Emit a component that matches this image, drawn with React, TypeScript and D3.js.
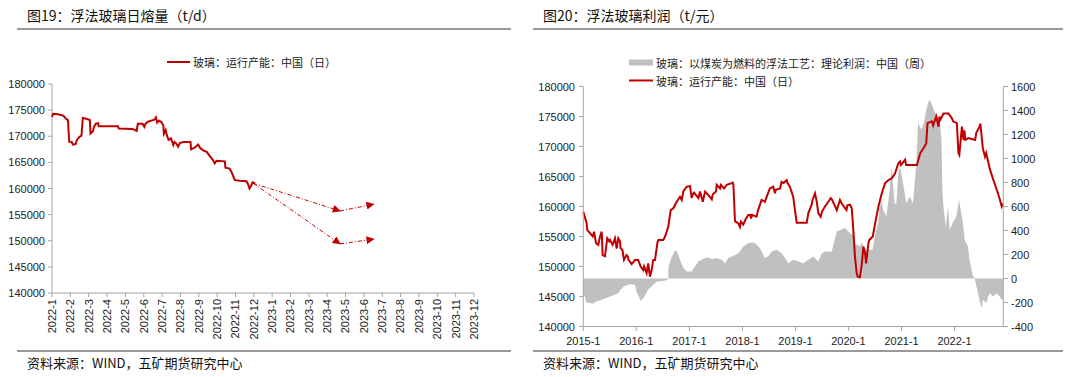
import React from "react";
import * as d3 from "d3";

const FONT_CJK = "'Noto Sans CJK SC', 'Noto Sans', sans-serif";
const FONT_NUM = "'Liberation Sans', Arial, sans-serif";
const RED = "#C00000";
const GREY = "#C0C0C0";
const AXIS = "#A6A6A6";
const RULE = "#9A9A9A";

// ---------------- Left chart data ----------------
const leftTitle = "图19：浮法玻璃日熔量（t/d）";
const leftLegend = "玻璃：运行产能：中国（日）";
const leftMonths = [
  "2022-1", "2022-2", "2022-3", "2022-4", "2022-5", "2022-6",
  "2022-7", "2022-8", "2022-9", "2022-10", "2022-11", "2022-12",
  "2023-1", "2023-2", "2023-3", "2023-4", "2023-5", "2023-6",
  "2023-7", "2023-8", "2023-9", "2023-10", "2023-11", "2023-12",
];
const leftYTicks = [140000, 145000, 150000, 155000, 160000, 165000, 170000, 175000, 180000];
const capacity2022Dates = [
  "2022-01-01", "2022-01-03", "2022-01-11", "2022-01-20", "2022-01-25", "2022-01-28", "2022-01-30",
  "2022-02-03", "2022-02-05", "2022-02-09", "2022-02-11", "2022-02-15", "2022-02-18", "2022-02-20",
  "2022-02-24", "2022-03-03", "2022-03-04", "2022-03-08", "2022-03-10", "2022-03-13", "2022-03-17",
  "2022-03-18", "2022-04-19", "2022-04-20", "2022-05-13", "2022-05-20", "2022-05-22", "2022-05-30",
  "2022-06-02", "2022-06-04", "2022-06-08", "2022-06-14", "2022-06-19", "2022-06-21", "2022-06-23",
  "2022-06-26", "2022-06-30", "2022-07-03", "2022-07-04", "2022-07-07", "2022-07-09", "2022-07-12",
  "2022-07-16", "2022-07-20", "2022-07-22", "2022-07-25", "2022-07-28", "2022-07-31", "2022-08-06",
  "2022-08-18", "2022-08-19", "2022-08-25", "2022-08-31", "2022-09-03", "2022-09-08", "2022-09-14",
  "2022-09-19", "2022-09-24", "2022-09-27", "2022-09-30", "2022-10-14", "2022-10-15", "2022-10-22",
  "2022-10-25", "2022-10-31", "2022-11-08", "2022-11-19", "2022-11-22", "2022-11-24", "2022-11-27",
  "2022-11-29", "2022-12-03",
];
const capacity2022Values = [
  173700, 174300, 174200, 173950, 173300, 173100, 168960,
  168900, 168400, 168500, 169300, 169900, 170100, 173500,
  173400, 173100, 170500, 170900, 171800, 172400, 172500,
  171900, 171900, 171500, 171400, 171000, 172400, 172400,
  171800, 172400, 172800, 173000, 173200, 173600, 172600,
  173000, 172700, 172100, 170500, 171200, 170200, 169300,
  169600, 168300, 168900, 168600, 168000, 168700, 168900,
  168900, 167500, 167800, 168400, 167800, 167300, 167000,
  166200, 165500, 164800, 165300, 165200, 164000, 163800,
  163200, 161600, 161500, 161400, 160700, 160000, 160600,
  161200, 161000,
];
const scenarioDates = ["2022-11-30", "2023-04-22", "2023-06-17"];
const scenarioHigh = [161000, 155700, 157000];
const scenarioLow = [161000, 149400, 150300];

// ---------------- Right chart data ----------------
const rightTitle = "图20：浮法玻璃利润（t/元）";
const rightLegendProfit = "玻璃：以煤炭为燃料的浮法工艺：理论利润：中国（周）";
const rightLegendCapacity = "玻璃：运行产能：中国（日）";
const rightYearLabels = ["2015-1", "2016-1", "2017-1", "2018-1", "2019-1", "2020-1", "2021-1", "2022-1"];
const rightLeftTicks = [140000, 145000, 150000, 155000, 160000, 165000, 170000, 175000, 180000];
const rightRightTicks = [-400, -200, 0, 200, 400, 600, 800, 1000, 1200, 1400, 1600];

const capacityDates = [
  "2015-01-01", "2015-01-24", "2015-01-28", "2015-03-07", "2015-03-16", "2015-03-30", "2015-04-14",
  "2015-04-26", "2015-05-08", "2015-05-14", "2015-05-30", "2015-06-15", "2015-06-29", "2015-07-04",
  "2015-07-22", "2015-08-07", "2015-08-19", "2015-08-30", "2015-09-11", "2015-09-14", "2015-09-28",
  "2015-10-08", "2015-10-26", "2015-11-05", "2015-11-08", "2015-11-30", "2015-12-23", "2016-01-14",
  "2016-01-31", "2016-02-18", "2016-02-24", "2016-03-12", "2016-03-23", "2016-04-04", "2016-04-16",
  "2016-04-27", "2016-05-09", "2016-05-25", "2016-06-01", "2016-07-05", "2016-07-17", "2016-08-08",
  "2016-08-25", "2016-09-12", "2016-10-05", "2016-10-28", "2016-11-09", "2016-11-20", "2016-12-13",
  "2017-01-05", "2017-01-17", "2017-01-23", "2017-02-02", "2017-03-04", "2017-03-15", "2017-04-03",
  "2017-04-19", "2017-05-12", "2017-06-04", "2017-06-10", "2017-07-03", "2017-07-08", "2017-07-31",
  "2017-08-06", "2017-08-27", "2017-09-15", "2017-10-19", "2017-10-26", "2017-10-31", "2017-11-11",
  "2017-12-04", "2017-12-15", "2017-12-22", "2018-01-07", "2018-01-26", "2018-02-11", "2018-02-24",
  "2018-03-01", "2018-03-08", "2018-04-08", "2018-04-19", "2018-05-13", "2018-06-05", "2018-06-17",
  "2018-07-09", "2018-08-01", "2018-08-13", "2018-08-19", "2018-09-17", "2018-09-28", "2018-10-11",
  "2018-11-02", "2018-11-08", "2018-11-24", "2018-12-17", "2018-12-29", "2019-01-10", "2019-03-20",
  "2019-03-31", "2019-04-23", "2019-04-29", "2019-05-16", "2019-05-28", "2019-06-08", "2019-06-24",
  "2019-07-04", "2019-07-24", "2019-08-02", "2019-09-01", "2019-09-11", "2019-10-13", "2019-11-04",
  "2019-11-16", "2019-12-19", "2019-12-25", "2020-01-12", "2020-01-24", "2020-02-04", "2020-02-15",
  "2020-02-27", "2020-03-05", "2020-03-20", "2020-04-02", "2020-04-13", "2020-04-25", "2020-05-02",
  "2020-05-18", "2020-05-24", "2020-06-17", "2020-07-03", "2020-07-26", "2020-08-18", "2020-09-10",
  "2020-10-03", "2020-10-26", "2020-11-17", "2020-12-10", "2020-12-22", "2020-12-28", "2021-01-26",
  "2021-02-01", "2021-03-13", "2021-04-17", "2021-05-10", "2021-06-01", "2021-06-20", "2021-06-29",
  "2021-07-29", "2021-08-07", "2021-08-28", "2021-09-13", "2021-09-19", "2021-09-26", "2021-10-17",
  "2021-11-20", "2021-12-14", "2021-12-22", "2022-01-17", "2022-01-28", "2022-02-03", "2022-02-21",
  "2022-03-04", "2022-03-10", "2022-03-17", "2022-04-07", "2022-05-23", "2022-05-31", "2022-06-22",
  "2022-06-28", "2022-07-15", "2022-07-30", "2022-08-07", "2022-09-03", "2022-09-26", "2022-10-19",
  "2022-11-10", "2022-11-22", "2022-12-01",
];
const capacityValues = [
  159100, 157200, 156100, 155000, 155800, 153900, 153600,
  155000, 155800, 151900, 151700, 154700, 154200, 154400,
  153600, 154700, 153000, 154700, 154200, 153100, 152700,
  151100, 151900, 151600, 151100, 150400, 151100, 151100,
  150000, 149400, 150000, 148900, 150500, 148300, 149400,
  151100, 151100, 153900, 154400, 154400, 155000, 156600,
  159400, 159700, 160800, 161600, 161100, 162500, 163300,
  163400, 161400, 162000, 162300, 161400, 162500, 160800,
  162500, 161900, 161200, 162000, 162500, 163600, 163000,
  163600, 163000, 163600, 163900, 164000, 163600, 157500,
  157200, 156600, 157500, 157000, 158000, 158600, 158600,
  158000, 158600, 158300, 159400, 161100, 160800, 161600,
  163000, 163300, 162200, 162800, 163000, 164100, 163900,
  164400, 163900, 163300, 161600, 159400, 157300, 157300,
  158900, 160300, 161100, 162200, 160800, 158900, 158300,
  159200, 160000, 160300, 161400, 161100, 159400, 161100,
  160500, 159400, 160200, 160300, 159700, 156100, 151700,
  148900, 148300, 148200, 150300, 153300, 152200, 150500,
  153900, 154400, 155000, 157200, 160000, 162200, 163900,
  164400, 164700, 165500, 167200, 167500, 166900, 167800,
  166900, 166900, 166900, 168900, 169700, 170500, 173900,
  174200, 173500, 175000, 173300, 175000, 174500, 175500,
  175500, 174700, 174200, 173900, 168900, 168600, 173300,
  171100, 172700, 171100, 171400, 171100, 172300, 173300,
  173800, 169700, 168300, 168900, 166100, 164400, 162800,
  161100, 160000, 160500,
];

const profitDates = [
  "2015-01-01", "2015-01-12", "2015-01-24", "2015-02-04", "2015-03-11", "2015-03-22", "2015-05-08",
  "2015-06-11", "2015-07-27", "2015-08-30", "2015-09-11", "2015-10-05", "2015-11-19", "2015-12-23",
  "2016-01-04", "2016-02-03", "2016-03-03", "2016-03-25", "2016-04-28", "2016-05-22", "2016-06-14",
  "2016-07-30", "2016-08-08", "2016-08-10", "2016-09-02", "2016-09-24", "2016-10-08", "2016-10-28",
  "2016-11-20", "2016-12-13", "2017-01-16", "2017-02-08", "2017-03-03", "2017-04-18", "2017-05-16",
  "2017-06-05", "2017-07-08", "2017-08-11", "2017-09-04", "2017-09-26", "2017-10-30", "2017-12-04",
  "2018-01-07", "2018-02-11", "2018-03-17", "2018-04-09", "2018-05-02", "2018-06-05", "2018-06-28",
  "2018-07-21", "2018-08-25", "2018-09-28", "2018-10-21", "2018-11-13", "2018-12-17", "2019-01-21",
  "2019-02-24", "2019-03-31", "2019-05-05", "2019-06-08", "2019-07-02", "2019-07-24", "2019-09-08",
  "2019-10-13", "2019-12-09", "2020-01-12", "2020-02-04", "2020-02-08", "2020-02-27", "2020-03-20",
  "2020-04-01", "2020-05-05", "2020-06-15", "2020-07-01", "2020-07-24", "2020-08-05", "2020-08-16",
  "2020-08-27", "2020-09-19", "2020-10-12", "2020-10-23", "2020-11-15", "2020-11-27", "2020-12-08",
  "2020-12-19", "2020-12-31", "2021-02-03", "2021-02-26", "2021-03-21", "2021-04-13", "2021-04-25",
  "2021-05-18", "2021-06-03", "2021-06-21", "2021-07-09", "2021-07-26", "2021-08-11", "2021-09-03",
  "2021-09-21", "2021-10-03", "2021-10-10", "2021-10-19", "2021-11-02", "2021-11-17", "2021-11-29",
  "2021-12-17", "2022-01-14", "2022-02-01", "2022-02-12", "2022-02-28", "2022-03-12", "2022-04-04",
  "2022-04-15", "2022-05-08", "2022-05-20", "2022-06-12", "2022-07-05", "2022-07-16", "2022-08-09",
  "2022-08-20", "2022-09-01", "2022-09-24", "2022-10-17", "2022-11-09", "2022-11-23", "2022-12-01",
];
const profitValues = [
  -136, -150, -205, -200, -211, -195, -178,
  -161, -140, -122, -100, -67, -47, -52,
  -115, -190, -140, -90, -53, -25, -25,
  -12, 0, 100, 183, 233, 225, 156,
  87, 58, 58, 100, 142, 170, 175,
  160, 170, 156, 128, 170, 189, 211,
  267, 295, 300, 281, 253, 170, 185,
  225, 239, 211, 170, 128, 156, 142,
  128, 156, 183, 142, 211, 225, 225,
  392, 420, 378, 364, 295, 281, 270,
  295, 239, 239, 350, 461, 600, 656,
  570, 520, 739, 933, 620, 628, 850,
  933, 878, 628, 684, 628, 961, 1295,
  1239, 1295, 1406, 1489, 1461, 1406, 1350,
  1322, 1156, 711, 572, 433, 600, 406,
  461, 517, 656, 572, 461, 322, 267,
  150, 20, 0, -122, -247, -178, -205,
  -150, -122, -150, -122, -150, -180, -170,
];

const sourceText = "资料来源：WIND，五矿期货研究中心";

const parse = d3.timeParse("%Y-%m-%d");

function monthIndex(s: string): number {
  const d = parse(s) as Date;
  const y = d.getFullYear();
  const m = d.getMonth();
  const days = new Date(y, m + 1, 0).getDate();
  return (y - 2022) * 12 + m + (d.getDate() - 1) / days;
}

function LeftChart() {
  const x = d3.scaleLinear().domain([0, leftMonths.length - 1]).range([52, 474]);
  const y = d3.scaleLinear().domain([140000, 180000]).range([293, 84]);
  const pts = capacity2022Dates.map((d, i) => [monthIndex(d), capacity2022Values[i]] as [number, number]);
  const line = d3.line<[number, number]>().x((d) => x(d[0])).y((d) => y(d[1]));
  const scen = (vals: number[]) =>
    vals.map((v, i) => [monthIndex(scenarioDates[i]), v] as [number, number]);
  const hi = scen(scenarioHigh);
  const lo = scen(scenarioLow);
  const seg = (a: [number, number], b: [number, number], k: string) => (
    <line key={k} x1={x(a[0])} y1={y(a[1])} x2={x(b[0])} y2={y(b[1])}
      stroke={RED} strokeWidth={1} strokeDasharray="4,2,1,2" markerEnd="url(#arrowRed)" />
  );
  return (
    <g>
      <text x={27} y={21} fontFamily={FONT_CJK} fontSize={14} fill="#111">{leftTitle}</text>
      <line x1={17} x2={511} y1={29} y2={29} stroke={RULE} strokeWidth={2} />
      <line x1={167} x2={190} y1={62} y2={62} stroke={RED} strokeWidth={2} />
      <text x={193} y={62} dominantBaseline="central" fontFamily={FONT_CJK} fontSize={11} fill="#222">{leftLegend}</text>
      {leftYTicks.map((t) => (
        <g key={t}>
          <line x1={48} x2={52} y1={y(t)} y2={y(t)} stroke={AXIS} />
          <text x={45} y={y(t)} textAnchor="end" dominantBaseline="central" fontFamily={FONT_NUM} fontSize={11} fill="#222">{t}</text>
        </g>
      ))}
      <line x1={52} x2={52} y1={84} y2={293} stroke={AXIS} />
      <line x1={52} x2={474} y1={293} y2={293} stroke={AXIS} />
      {leftMonths.map((m, i) => (
        <g key={m}>
          <line x1={x(i)} x2={x(i)} y1={293} y2={297} stroke={AXIS} />
          <text transform={`translate(${x(i)},299) rotate(-90)`} textAnchor="end" dy="0.35em"
            fontFamily={FONT_NUM} fontSize={11} fill="#222">{m}</text>
        </g>
      ))}
      <path d={line(pts) || ""} fill="none" stroke={RED} strokeWidth={2} />
      {seg(hi[0], hi[1], "h1")}
      {seg(hi[1], hi[2], "h2")}
      {seg(lo[0], lo[1], "l1")}
      {seg(lo[1], lo[2], "l2")}
      <line x1={17} x2={511} y1={351} y2={351} stroke={RULE} strokeWidth={2} />
      <text x={27} y={368} fontFamily={FONT_CJK} fontSize={13} fill="#111">{sourceText}</text>
    </g>
  );
}

function RightChart() {
  const x = d3.scaleTime().domain([new Date(2015, 0, 1), new Date(2022, 11, 3)]).range([583.3, 1003.3]);
  const yL = d3.scaleLinear().domain([140000, 180000]).range([326.5, 86.5]);
  const yR = d3.scaleLinear().domain([-400, 1600]).range([326.5, 86.5]);
  const cap = capacityDates.map((d, i) => ({ d: parse(d) as Date, v: capacityValues[i] }));
  const prof = profitDates.map((d, i) => ({ d: parse(d) as Date, v: profitValues[i] }));
  const area = d3.area<{ d: Date; v: number }>().x((p) => x(p.d)).y0(yR(0)).y1((p) => yR(p.v));
  const line = d3.line<{ d: Date; v: number }>().x((p) => x(p.d)).y((p) => yL(p.v));
  const yearTicks = rightYearLabels.map((_, i) => new Date(2015 + i, 0, 1));
  return (
    <g>
      <text x={543} y={21} fontFamily={FONT_CJK} fontSize={14} fill="#111">{rightTitle}</text>
      <line x1={533} x2={1063} y1={29} y2={29} stroke={RULE} strokeWidth={2} />
      <rect x={629} y={59.5} width={24} height={6} fill={GREY} />
      <text x={656} y={62.5} dominantBaseline="central" fontFamily={FONT_CJK} fontSize={11} fill="#222">{rightLegendProfit}</text>
      <line x1={629} x2={653} y1={80.5} y2={80.5} stroke={RED} strokeWidth={2} />
      <text x={656} y={80.5} dominantBaseline="central" fontFamily={FONT_CJK} fontSize={11} fill="#222">{rightLegendCapacity}</text>
      <path d={area(prof) || ""} fill={GREY} stroke="none" />
      <path d={line(cap) || ""} fill="none" stroke={RED} strokeWidth={2} />
      <line x1={583.3} x2={583.3} y1={86.5} y2={326.5} stroke={AXIS} />
      <line x1={1003.3} x2={1003.3} y1={86.5} y2={326.5} stroke={AXIS} />
      <line x1={583.3} x2={1003.3} y1={326.5} y2={326.5} stroke={AXIS} />
      {rightLeftTicks.map((t) => (
        <g key={"l" + t}>
          <line x1={579} x2={583.3} y1={yL(t)} y2={yL(t)} stroke={AXIS} />
          <text x={575} y={yL(t)} textAnchor="end" dominantBaseline="central" fontFamily={FONT_NUM} fontSize={11} fill="#222">{t}</text>
        </g>
      ))}
      {rightRightTicks.map((t) => (
        <g key={"r" + t}>
          <line x1={1003.3} x2={1008} y1={yR(t)} y2={yR(t)} stroke={AXIS} />
          <text x={1011} y={yR(t)} dominantBaseline="central" fontFamily={FONT_NUM} fontSize={11} fill="#222">{t}</text>
        </g>
      ))}
      {yearTicks.map((d, i) => (
        <g key={rightYearLabels[i]}>
          <line x1={x(d)} x2={x(d)} y1={326.5} y2={331} stroke={AXIS} />
          <text x={x(d)} y={345} textAnchor="middle" fontFamily={FONT_NUM} fontSize={11} fill="#222">{rightYearLabels[i]}</text>
        </g>
      ))}
      <line x1={533} x2={1063} y1={351} y2={351} stroke={RULE} strokeWidth={2} />
      <text x={543} y={368} fontFamily={FONT_CJK} fontSize={13} fill="#111">{sourceText}</text>
    </g>
  );
}

export default function App() {
  return (
    <svg width={1080} height={377} viewBox="0 0 1080 377"
      style={{ position: "absolute", left: 0, top: 0, background: "#fff" }}>
      <defs>
        <marker id="arrowRed" viewBox="0 0 10 10" refX={9} refY={5} markerWidth={9} markerHeight={8}
          markerUnits="userSpaceOnUse" orient="auto">
          <path d="M0,0 L10,5 L0,10 Z" fill={RED} />
        </marker>
      </defs>
      <rect x={0} y={0} width={1080} height={377} fill="#fff" />
      <LeftChart />
      <RightChart />
    </svg>
  );
}
